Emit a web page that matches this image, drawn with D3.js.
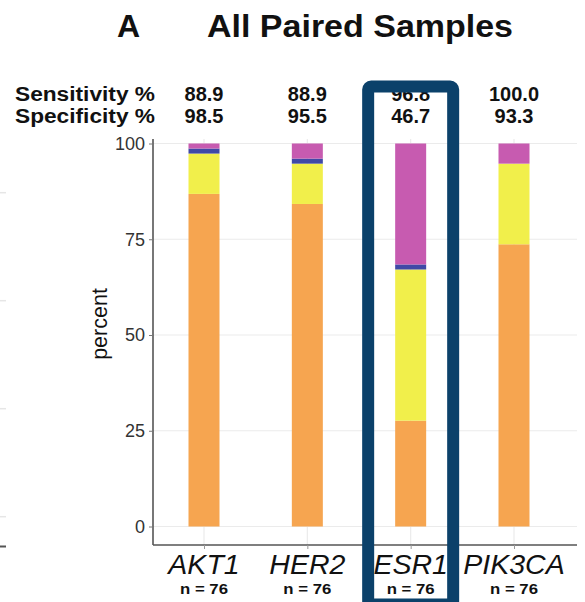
<!DOCTYPE html>
<html>
<head>
<meta charset="utf-8">
<script src="https://cdn.jsdelivr.net/npm/d3@7"></script>
<style>
  html, body { margin: 0; padding: 0; background: #ffffff; }
  svg { display: block; }
  text { font-family: "Liberation Sans", Arial, Helvetica, sans-serif; }
</style>
</head>
<body>
<svg id="chart" width="585" height="602"></svg>
<script>
// Genes compared between paired samples
const categories = ["AKT1", "HER2", "ESR1", "PIK3CA"];
const sampleN = [76, 76, 76, 76];

// Sample counts per concordance class, stacked bottom to top
const trueNeg  = [66, 64, 21, 56];
const truePos  = [8, 8, 30, 16];
const falseNeg = [1, 1, 1, 0];
const falsePos = [1, 3, 24, 4];

const seriesKeys = ["trueNeg", "truePos", "falseNeg", "falsePos"];
const seriesColors = ["#F6A550", "#F1EF4B", "#4049A6", "#C75BB0"];

const yTicks = [0, 25, 50, 75, 100];
const highlighted = "ESR1";

// Per-gene rows in percent of all paired samples
const rows = categories.map((c, i) => ({
  gene: c,
  n: sampleN[i],
  trueNeg: trueNeg[i] / sampleN[i] * 100,
  truePos: truePos[i] / sampleN[i] * 100,
  falseNeg: falseNeg[i] / sampleN[i] * 100,
  falsePos: falsePos[i] / sampleN[i] * 100,
  sens: truePos[i] / (truePos[i] + falseNeg[i]) * 100,
  spec: trueNeg[i] / (trueNeg[i] + falsePos[i]) * 100
}));

const svg = d3.select("#chart");
const panel = { left: 153, right: 577, top: 139, bottom: 545 };

const x = d3.scalePoint().domain(categories).range([204, 514]);
const barW = 31;
const y = d3.scaleLinear().domain([0, 100]).range([526.5, 143.5]);

// Faint edge of the neighbouring panel on the left
const edgeGrid = d3.scaleLinear().domain([0, 3]).range([516.7, 192.7]);
svg.append("g").selectAll("line").data([0, 1, 2, 3]).join("line")
  .attr("x1", 0).attr("x2", 6)
  .attr("y1", d => edgeGrid(d)).attr("y2", d => edgeGrid(d))
  .attr("stroke", "#e6e6e6").attr("stroke-width", 1.5);
svg.append("line").attr("x1", 0).attr("x2", 6).attr("y1", 546.5).attr("y2", 546.5)
  .attr("stroke", "#555").attr("stroke-width", 2);

// Grid lines
svg.append("g").selectAll("line").data(yTicks).join("line")
  .attr("x1", panel.left).attr("x2", panel.right)
  .attr("y1", d => y(d)).attr("y2", d => y(d))
  .attr("stroke", "#ebebeb").attr("stroke-width", 1.2);
svg.append("g").selectAll("line").data(categories).join("line")
  .attr("x1", d => x(d)).attr("x2", d => x(d))
  .attr("y1", panel.top).attr("y2", panel.bottom)
  .attr("stroke", "#ebebeb").attr("stroke-width", 1.2);

// Stacked bars
const stack = d3.stack().keys(seriesKeys);
const layers = stack(rows);
svg.append("g").selectAll("g").data(layers).join("g")
  .attr("fill", (d, i) => seriesColors[i])
  .selectAll("rect").data(d => d.filter(s => s[1] - s[0] > 0)).join("rect")
  .attr("x", d => x(d.data.gene) - barW / 2)
  .attr("width", barW)
  .attr("y", d => y(d[1]))
  .attr("height", d => y(d[0]) - y(d[1]));

// Y axis
const yAxis = svg.append("g").attr("transform", `translate(${panel.left},0)`)
  .call(d3.axisLeft(y).tickValues(yTicks).tickSize(4).tickPadding(4));
yAxis.select(".domain").attr("d", `M0,${panel.top}V${panel.bottom}`)
  .attr("stroke", "#555").attr("stroke-width", 1.6);
yAxis.selectAll(".tick line").attr("stroke", "#777");
yAxis.selectAll(".tick text")
  .attr("font-size", 18).attr("fill", "#333")
  .style("font-family", "Liberation Sans, Arial, sans-serif");

// X axis
const xAxis = svg.append("g").attr("transform", `translate(0,${panel.bottom})`)
  .call(d3.axisBottom(x).tickSize(4).tickFormat(""));
xAxis.select(".domain").attr("d", `M${panel.left},0H${panel.right}`)
  .attr("stroke", "#555").attr("stroke-width", 1.6);
xAxis.selectAll(".tick line").attr("stroke", "#999");

// Gene names and sample counts
svg.append("g").selectAll("text").data(rows).join("text")
  .attr("x", d => x(d.gene)).attr("y", 574)
  .attr("text-anchor", "middle")
  .attr("font-size", 28.5).attr("font-style", "italic").attr("fill", "#111")
  .text(d => d.gene);
svg.append("g").selectAll("text").data(rows).join("text")
  .attr("x", d => x(d.gene)).attr("y", 594)
  .attr("text-anchor", "middle")
  .attr("font-size", 15).attr("font-weight", "bold").attr("fill", "#111")
  .attr("textLength", 48).attr("lengthAdjust", "spacingAndGlyphs")
  .text(d => `n = ${d.n}`);

// Y axis title
svg.append("text")
  .attr("transform", "translate(107,324) rotate(-90)")
  .attr("text-anchor", "middle")
  .attr("font-size", 21.5).attr("fill", "#111")
  .text("percent");

// Sensitivity / specificity table
const fmt = d3.format(".1f");
const tableRows = [
  { label: "Sensitivity %", key: "sens", yPos: 101 },
  { label: "Specificity %", key: "spec", yPos: 123 }
];
tableRows.forEach(r => {
  svg.append("text").attr("x", 15).attr("y", r.yPos)
    .attr("font-size", 20).attr("font-weight", "bold").attr("fill", "#111")
    .attr("textLength", 140).attr("lengthAdjust", "spacingAndGlyphs")
    .text(r.label);
  svg.append("g").selectAll("text").data(rows).join("text")
    .attr("x", d => x(d.gene)).attr("y", r.yPos)
    .attr("text-anchor", "middle")
    .attr("font-size", 20).attr("font-weight", "bold").attr("fill", "#111")
    .text(d => fmt(d[r.key]));
});

// Title
svg.append("text").attr("x", 117).attr("y", 37)
  .attr("font-size", 32).attr("font-weight", "bold").attr("fill", "#111")
  .text("A");
svg.append("text").attr("x", 207).attr("y", 37)
  .attr("font-size", 32).attr("font-weight", "bold").attr("fill", "#111")
  .attr("textLength", 306).attr("lengthAdjust", "spacingAndGlyphs")
  .text("All Paired Samples");

// Highlight frame around the selected gene
const hx = x(highlighted);
svg.append("rect")
  .attr("x", hx - 42.5).attr("y", 86.5)
  .attr("width", 85).attr("height", 518)
  .attr("rx", 3)
  .attr("fill", "none").attr("stroke", "#0B416A").attr("stroke-width", 12);
</script>
</body>
</html>
